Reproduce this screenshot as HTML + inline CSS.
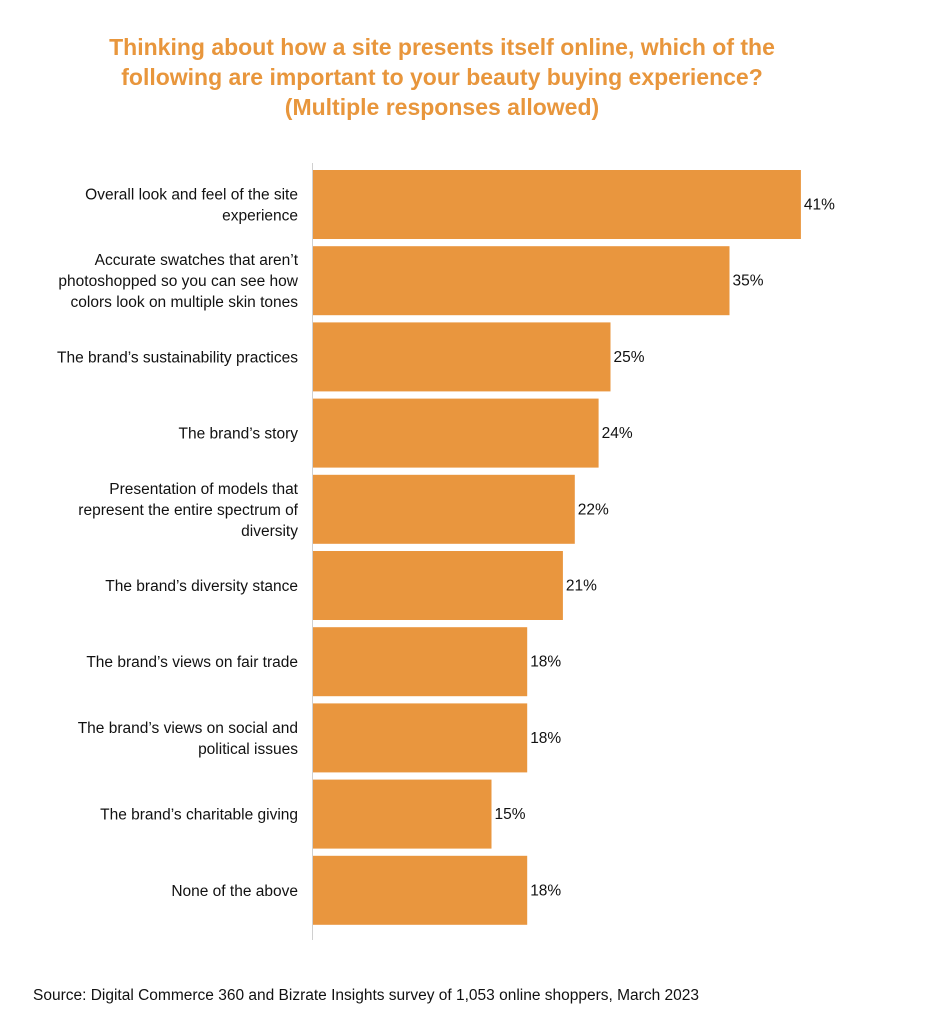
<!DOCTYPE html>
<html><head><meta charset="utf-8"><style>
body{margin:0;background:#fff;width:926px;height:1026px;overflow:hidden;font-family:"Liberation Sans",sans-serif}
</style></head><body>
<svg width="926" height="1026">
<g fill="#E8963C" font-weight="bold" font-size="23" text-anchor="middle">
<text x="442" y="55">Thinking about how a site presents itself online, which of the</text>
<text x="442" y="85">following are important to your beauty buying experience?</text>
<text x="442" y="115">(Multiple responses allowed)</text>
</g>
<line x1="312.5" y1="163" x2="312.5" y2="940" stroke="#d0d0d0" stroke-width="1"/>
<g id="bars"></g>
<text x="33" y="1000" font-size="15.5" fill="#111">Source:  Digital Commerce 360 and Bizrate Insights survey of 1,053 online shoppers, March 2023</text>
</svg>
<script>
const categories=[
["Overall look and feel of the site","experience"],
["Accurate swatches that aren’t","photoshopped so you can see how","colors look on multiple skin tones"],
["The brand’s sustainability practices"],
["The brand’s story"],
["Presentation of models that","represent the entire spectrum of","diversity"],
["The brand’s diversity stance"],
["The brand’s views on fair trade"],
["The brand’s views on social and","political issues"],
["The brand’s charitable giving"],
["None of the above"]];
const values=[41,35,25,24,22,21,18,18,15,18];
const valueLabels=["41%","35%","25%","24%","22%","21%","18%","18%","15%","18%"];
const NS="http://www.w3.org/2000/svg";
const x0=313,pxPer=11.9,top0=170,pitch=76.2,bh=69;
const xs=v=>x0+v*pxPer;
const g=document.getElementById('bars');
values.forEach((v,i)=>{
  const y=top0+i*pitch;
  const r=document.createElementNS(NS,'rect');
  r.setAttribute('x',x0);r.setAttribute('y',y);r.setAttribute('width',xs(v)-x0);r.setAttribute('height',bh);r.setAttribute('fill','#E9963E');
  
  
  g.appendChild(r);
  const t=document.createElementNS(NS,'text');
  t.setAttribute('x',xs(v)+3);t.setAttribute('y',y+bh/2+5);t.setAttribute('font-size','15.5');t.setAttribute('fill','#111');
  t.textContent=valueLabels[i];
  
  
  g.appendChild(t);
  const lines=categories[i];
  const lh=21, cy=y+bh/2;
  lines.forEach((ln,j)=>{
    const c=document.createElementNS(NS,'text');
    c.setAttribute('x',298);c.setAttribute('y',cy-(lines.length-1)*lh/2+j*lh+5.5);
    c.setAttribute('font-size','15.5');c.setAttribute('fill','#111');c.setAttribute('text-anchor','end');
    c.textContent=ln;
    
    
    g.appendChild(c);
  });
});
</script>
</body></html>
